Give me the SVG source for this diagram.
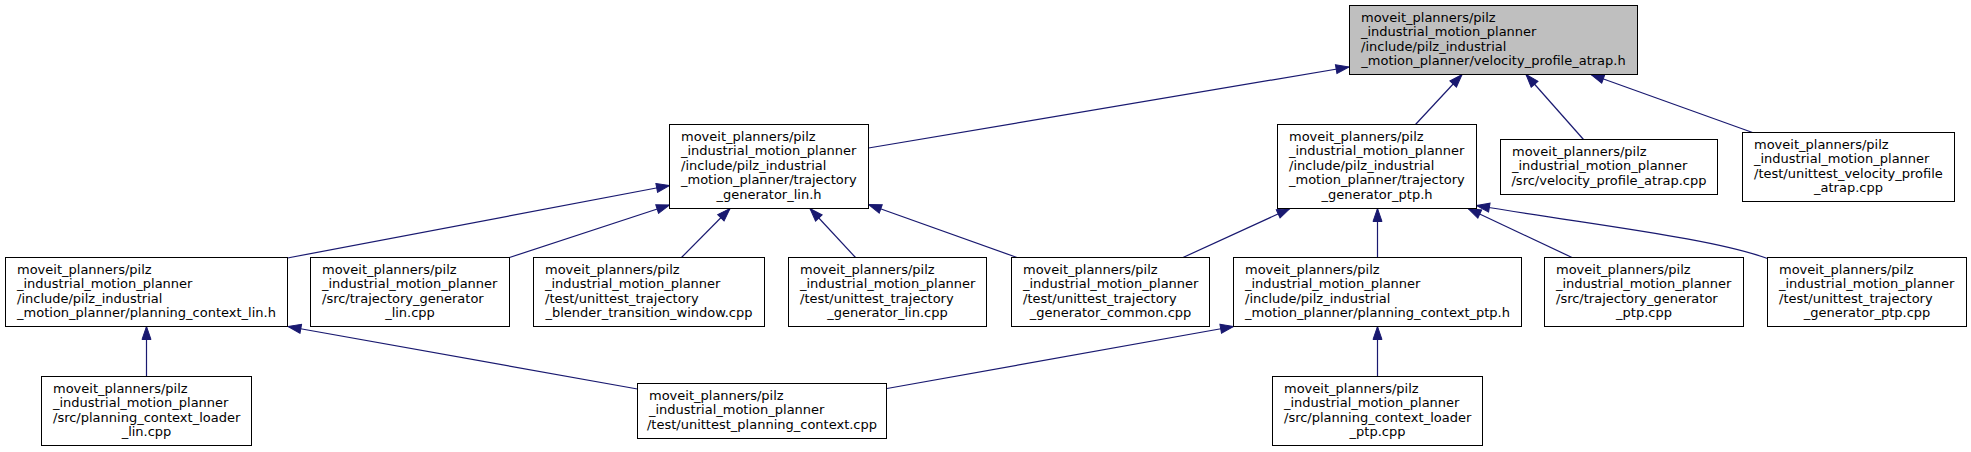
<svg xmlns="http://www.w3.org/2000/svg" width="1971" height="452" viewBox="0 0 1971 452">
<defs>
<style>
.n rect{fill:#fff;stroke:#000;stroke-width:1}
.n.root rect{fill:#bfbfbf}
.n text{font-family:"DejaVu Sans","Liberation Sans",sans-serif;font-size:13px;fill:#000}
.e path{fill:none;stroke:#191970;stroke-width:1.2}
</style>
<marker id="ah" markerUnits="userSpaceOnUse" markerWidth="15" markerHeight="11" refX="14" refY="5.5" orient="auto">
<path d="M1,1 L14,5.5 L1,10 Z" fill="#191970" stroke="#191970" stroke-width="1"/>
</marker>
</defs>
<rect x="0" y="0" width="1971" height="452" fill="#fff"/>

<g id="edges" class="e">
<path d="M868.5,148 L1349,67" marker-end="url(#ah)"/>
<path d="M1415.5,124.5 L1462,74.5" marker-end="url(#ah)"/>
<path d="M1583.5,139.5 L1526,74.5" marker-end="url(#ah)"/>
<path d="M1752.5,132.5 L1591,74.5" marker-end="url(#ah)"/>
<path d="M287.5,258 L669.5,185.5" marker-end="url(#ah)"/>
<path d="M509.5,257.5 L669.5,205" marker-end="url(#ah)"/>
<path d="M681.5,257.5 L730,208.5" marker-end="url(#ah)"/>
<path d="M855.5,257.5 L810,208.5" marker-end="url(#ah)"/>
<path d="M1017,257.5 L868.5,204.5" marker-end="url(#ah)"/>
<path d="M1183,257.5 L1290,208.5" marker-end="url(#ah)"/>
<path d="M1377.5,257.5 L1377.5,208.5" marker-end="url(#ah)"/>
<path d="M1572,257.5 L1468,208.5" marker-end="url(#ah)"/>
<path d="M1767.5,258.5 C1710,238 1600,226 1476.5,205.5" marker-end="url(#ah)"/>
<path d="M146.5,376.5 L146.5,326.5" marker-end="url(#ah)"/>
<path d="M637.5,389 L288,326.5" marker-end="url(#ah)"/>
<path d="M887,388.5 L1233.5,326.5" marker-end="url(#ah)"/>
<path d="M1377.5,376.5 L1377.5,326.5" marker-end="url(#ah)"/>
</g>

<g id="node_root" class="n root">
<rect x="1349.5" y="5.5" width="288" height="69"/>
<text><tspan x="1361" y="21.5">moveit_planners/pilz</tspan><tspan x="1361" y="36">_industrial_motion_planner</tspan><tspan x="1361" y="50.5">/include/pilz_industrial</tspan><tspan x="1493.5" y="65" text-anchor="middle">_motion_planner/velocity_profile_atrap.h</tspan></text>
</g>

<g id="node_traj_gen_lin_h" class="n">
<rect x="669.5" y="124.5" width="199" height="84"/>
<text><tspan x="681" y="140.75">moveit_planners/pilz</tspan><tspan x="681" y="155.25">_industrial_motion_planner</tspan><tspan x="681" y="169.75">/include/pilz_industrial</tspan><tspan x="681" y="184.25">_motion_planner/trajectory</tspan><tspan x="769" y="198.75" text-anchor="middle">_generator_lin.h</tspan></text>
</g>

<g id="node_traj_gen_ptp_h" class="n">
<rect x="1277.5" y="124.5" width="199" height="84"/>
<text><tspan x="1289" y="140.75">moveit_planners/pilz</tspan><tspan x="1289" y="155.25">_industrial_motion_planner</tspan><tspan x="1289" y="169.75">/include/pilz_industrial</tspan><tspan x="1289" y="184.25">_motion_planner/trajectory</tspan><tspan x="1377" y="198.75" text-anchor="middle">_generator_ptp.h</tspan></text>
</g>

<g id="node_velocity_profile_atrap_cpp" class="n">
<rect x="1500.5" y="139.5" width="217" height="55"/>
<text><tspan x="1512" y="155.75">moveit_planners/pilz</tspan><tspan x="1512" y="170.25">_industrial_motion_planner</tspan><tspan x="1609" y="184.75" text-anchor="middle">/src/velocity_profile_atrap.cpp</tspan></text>
</g>

<g id="node_unittest_velocity_profile_atrap_cpp" class="n">
<rect x="1742.5" y="132.5" width="212" height="69"/>
<text><tspan x="1754" y="148.5">moveit_planners/pilz</tspan><tspan x="1754" y="163">_industrial_motion_planner</tspan><tspan x="1754" y="177.5">/test/unittest_velocity_profile</tspan><tspan x="1848.5" y="192" text-anchor="middle">_atrap.cpp</tspan></text>
</g>

<g id="node_planning_context_lin_h" class="n">
<rect x="5.5" y="257.5" width="282" height="69"/>
<text><tspan x="17" y="273.5">moveit_planners/pilz</tspan><tspan x="17" y="288">_industrial_motion_planner</tspan><tspan x="17" y="302.5">/include/pilz_industrial</tspan><tspan x="146.5" y="317" text-anchor="middle">_motion_planner/planning_context_lin.h</tspan></text>
</g>

<g id="node_trajectory_generator_lin_cpp" class="n">
<rect x="310.5" y="257.5" width="199" height="69"/>
<text><tspan x="322" y="273.5">moveit_planners/pilz</tspan><tspan x="322" y="288">_industrial_motion_planner</tspan><tspan x="322" y="302.5">/src/trajectory_generator</tspan><tspan x="410" y="317" text-anchor="middle">_lin.cpp</tspan></text>
</g>

<g id="node_unittest_trajectory_blender_transition_window_cpp" class="n">
<rect x="533.5" y="257.5" width="231" height="69"/>
<text><tspan x="545" y="273.5">moveit_planners/pilz</tspan><tspan x="545" y="288">_industrial_motion_planner</tspan><tspan x="545" y="302.5">/test/unittest_trajectory</tspan><tspan x="649" y="317" text-anchor="middle">_blender_transition_window.cpp</tspan></text>
</g>

<g id="node_unittest_trajectory_generator_lin_cpp" class="n">
<rect x="788.5" y="257.5" width="198" height="69"/>
<text><tspan x="800" y="273.5">moveit_planners/pilz</tspan><tspan x="800" y="288">_industrial_motion_planner</tspan><tspan x="800" y="302.5">/test/unittest_trajectory</tspan><tspan x="887.5" y="317" text-anchor="middle">_generator_lin.cpp</tspan></text>
</g>

<g id="node_unittest_trajectory_generator_common_cpp" class="n">
<rect x="1011.5" y="257.5" width="198" height="69"/>
<text><tspan x="1023" y="273.5">moveit_planners/pilz</tspan><tspan x="1023" y="288">_industrial_motion_planner</tspan><tspan x="1023" y="302.5">/test/unittest_trajectory</tspan><tspan x="1110.5" y="317" text-anchor="middle">_generator_common.cpp</tspan></text>
</g>

<g id="node_planning_context_ptp_h" class="n">
<rect x="1233.5" y="257.5" width="288" height="69"/>
<text><tspan x="1245" y="273.5">moveit_planners/pilz</tspan><tspan x="1245" y="288">_industrial_motion_planner</tspan><tspan x="1245" y="302.5">/include/pilz_industrial</tspan><tspan x="1377.5" y="317" text-anchor="middle">_motion_planner/planning_context_ptp.h</tspan></text>
</g>

<g id="node_trajectory_generator_ptp_cpp" class="n">
<rect x="1544.5" y="257.5" width="199" height="69"/>
<text><tspan x="1556" y="273.5">moveit_planners/pilz</tspan><tspan x="1556" y="288">_industrial_motion_planner</tspan><tspan x="1556" y="302.5">/src/trajectory_generator</tspan><tspan x="1644" y="317" text-anchor="middle">_ptp.cpp</tspan></text>
</g>

<g id="node_unittest_trajectory_generator_ptp_cpp" class="n">
<rect x="1767.5" y="257.5" width="199" height="69"/>
<text><tspan x="1779" y="273.5">moveit_planners/pilz</tspan><tspan x="1779" y="288">_industrial_motion_planner</tspan><tspan x="1779" y="302.5">/test/unittest_trajectory</tspan><tspan x="1867" y="317" text-anchor="middle">_generator_ptp.cpp</tspan></text>
</g>

<g id="node_planning_context_loader_lin_cpp" class="n">
<rect x="41.5" y="376.5" width="210" height="69"/>
<text><tspan x="53" y="392.5">moveit_planners/pilz</tspan><tspan x="53" y="407">_industrial_motion_planner</tspan><tspan x="53" y="421.5">/src/planning_context_loader</tspan><tspan x="146.5" y="436" text-anchor="middle">_lin.cpp</tspan></text>
</g>

<g id="node_unittest_planning_context_cpp" class="n">
<rect x="637.5" y="383.5" width="249" height="55"/>
<text><tspan x="649" y="399.75">moveit_planners/pilz</tspan><tspan x="649" y="414.25">_industrial_motion_planner</tspan><tspan x="762" y="428.75" text-anchor="middle">/test/unittest_planning_context.cpp</tspan></text>
</g>

<g id="node_planning_context_loader_ptp_cpp" class="n">
<rect x="1272.5" y="376.5" width="210" height="69"/>
<text><tspan x="1284" y="392.5">moveit_planners/pilz</tspan><tspan x="1284" y="407">_industrial_motion_planner</tspan><tspan x="1284" y="421.5">/src/planning_context_loader</tspan><tspan x="1377.5" y="436" text-anchor="middle">_ptp.cpp</tspan></text>
</g>
</svg>
